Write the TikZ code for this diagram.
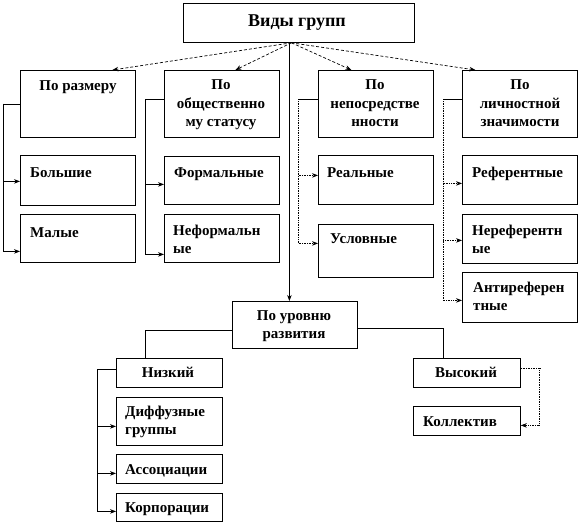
\documentclass[tikz,border=0pt]{standalone}
\usepackage{fontspec}
\setmainfont{Liberation Serif}
\usetikzlibrary{arrows.meta}
\begin{document}
\begin{tikzpicture}[x=1pt,y=-1pt,
  boxnode/.style={draw=black,line width=0.8pt,inner sep=0pt,anchor=north west},
  lbl/.style={inner sep=0pt,font=\fontsize{15}{18}\selectfont\bfseries},
  conn/.style={draw=black,line width=0.7pt},
  arr/.style={conn,-{Stealth[length=6pt,width=4.5pt]}},
  darr/.style={arr,densely dashed}]
\fill[white] (0,0) rectangle (580,524);
\useasboundingbox (0,0) rectangle (580,524);
% boxes
\node[boxnode,minimum width=231pt,minimum height=39pt] (title) at (183,3) {};
\node[boxnode,minimum width=115pt,minimum height=67pt] (razm) at (20,70) {};
\node[boxnode,minimum width=115pt,minimum height=67pt] (obsh) at (164,70) {};
\node[boxnode,minimum width=115pt,minimum height=67pt] (nep) at (318,70) {};
\node[boxnode,minimum width=115pt,minimum height=67pt] (lich) at (462,70) {};
\node[boxnode,minimum width=115pt,minimum height=50pt] (bol) at (20,155) {};
\node[boxnode,minimum width=115pt,minimum height=48pt] (mal) at (20,214) {};
\node[boxnode,minimum width=115pt,minimum height=48pt] (form) at (164,156) {};
\node[boxnode,minimum width=115pt,minimum height=48pt] (neform) at (164,214) {};
\node[boxnode,minimum width=115pt,minimum height=49pt] (real) at (318,155) {};
\node[boxnode,minimum width=115pt,minimum height=53pt] (usl) at (318,224) {};
\node[boxnode,minimum width=115pt,minimum height=49pt] (ref) at (462,155) {};
\node[boxnode,minimum width=115pt,minimum height=49pt] (neref) at (462,214) {};
\node[boxnode,minimum width=115pt,minimum height=50pt] (antiref) at (462,272) {};
\node[boxnode,minimum width=125pt,minimum height=47pt] (urov) at (232,301) {};
\node[boxnode,minimum width=106pt,minimum height=29pt] (niz) at (116,358) {};
\node[boxnode,minimum width=106pt,minimum height=48pt] (diff) at (116,397) {};
\node[boxnode,minimum width=106pt,minimum height=29pt] (assoc) at (116,454) {};
\node[boxnode,minimum width=106pt,minimum height=28pt] (korp) at (116,493) {};
\node[boxnode,minimum width=107pt,minimum height=29pt] (vys) at (413,358) {};
\node[boxnode,minimum width=107pt,minimum height=29pt] (koll) at (413,406) {};
% texts (base anchor of a multi-line node = baseline of its last line)
\node[lbl,anchor=base,font=\fontsize{18}{22}\selectfont\bfseries] (titleT) at (297,27) {Виды групп};
\node[lbl,anchor=base] (razmT) at (78,91) {По размеру};
\node[lbl,anchor=base,align=center] (obshT) at (221,126) {По\\общественно\\му статусу};
\node[lbl,anchor=base,align=center] (nepT) at (375,126) {По\\непосредстве\\нности};
\node[lbl,anchor=base,align=center] (lichT) at (520,126) {По\\личностной\\значимости};
\node[lbl,anchor=base west] (bolT) at (30,177) {Большие};
\node[lbl,anchor=base west] (malT) at (30,237) {Малые};
\node[lbl,anchor=base west] (formT) at (174,177) {Формальные};
\node[lbl,anchor=base west,align=left] (neformT) at (173,253) {Неформальн\\ые};
\node[lbl,anchor=base west] (realT) at (327,177) {Реальные};
\node[lbl,anchor=base west] (uslT) at (330,243) {Условные};
\node[lbl,anchor=base west] (refT) at (472,177) {Референтные};
\node[lbl,anchor=base west,align=left] (nerefT) at (472,253) {Нереферентн\\ые};
\node[lbl,anchor=base west,align=left] (antirefT) at (473,310) {Антиреферен\\тные};
\node[lbl,anchor=base,align=center] (urovT) at (294,338) {По уровню\\развития};
\node[lbl,anchor=base] (nizT) at (168,377) {Низкий};
\node[lbl,anchor=base west,align=left] (diffT) at (125,434) {Диффузные\\группы};
\node[lbl,anchor=base west] (assocT) at (125,474) {Ассоциации};
\node[lbl,anchor=base west] (korpT) at (125,512) {Корпорации};
\node[lbl,anchor=base] (vysT) at (466,377) {Высокий};
\node[lbl,anchor=base west] (kollT) at (423,426) {Коллектив};
% connectors from title
\draw[darr] ([xshift=-7.5pt]title.south) -- ([xshift=34.5pt]razm.north);
\draw[darr] ([xshift=-7.5pt]title.south) -- ([xshift=13.5pt]obsh.north);
\draw[darr] ([xshift=-7.5pt]title.south) -- ([xshift=-24.5pt]nep.north);
\draw[darr] ([xshift=-7.5pt]title.south) -- ([xshift=-44.5pt]lich.north);
\draw[arr] ([xshift=-9.5pt]title.south) -- ([xshift=-5.5pt]urov.north);
% column 1
\draw[conn] (razm.west) -- ++(-17,0) coordinate (c1);
\draw[arr] (c1) |- ([yshift=-1pt]bol.west);
\draw[arr] (c1) |- ([yshift=-13pt]mal.west);
% column 2
\draw[conn] ([yshift=4.5pt]obsh.west) -- ++(-19,0) coordinate (c2);
\draw[arr] (c2) |- ([yshift=-4pt]form.west);
\draw[arr] (c2) |- ([yshift=-16pt]neform.west);
% column 3
\draw[conn] ([yshift=4.5pt]nep.west) -- ++(-20,0) coordinate (c3);
\draw[arr,densely dotted] (c3) |- ([yshift=4.5pt]real.west);
\draw[arr,densely dotted] (c3) |- ([yshift=7.5pt]usl.west);
% column 4
\draw[conn] ([yshift=4.5pt]lich.west) -- ++(-19,0) coordinate (c4);
\draw[arr,densely dotted] (c4) |- ([yshift=-3.5pt]ref.west);
\draw[arr,densely dotted] (c4) |- ([yshift=-1.5pt]neref.west);
\draw[arr,densely dotted] (c4) |- ([yshift=-3pt]antiref.west);
% level of development
\draw[conn] ([yshift=-5.5pt]urov.west) -| ([xshift=29pt]niz.north west);
\draw[conn] ([yshift=-3.5pt]urov.east) -| ([xshift=30pt]vys.north west);
\draw[conn] ([yshift=3.5pt]niz.west) -- ++(-19,0) coordinate (c5);
\draw[arr] (c5) |- ([yshift=-5pt]diff.west);
\draw[arr] (c5) |- ([yshift=-4.5pt]assoc.west);
\draw[arr] (c5) |- ([yshift=-4pt]korp.west);
\draw[conn,densely dotted] ([yshift=4.5pt]vys.east) -- ++(19,0) coordinate (c6);
\draw[arr,densely dotted] (c6) |- ([yshift=-4.5pt]koll.east);
\end{tikzpicture}
\end{document}
